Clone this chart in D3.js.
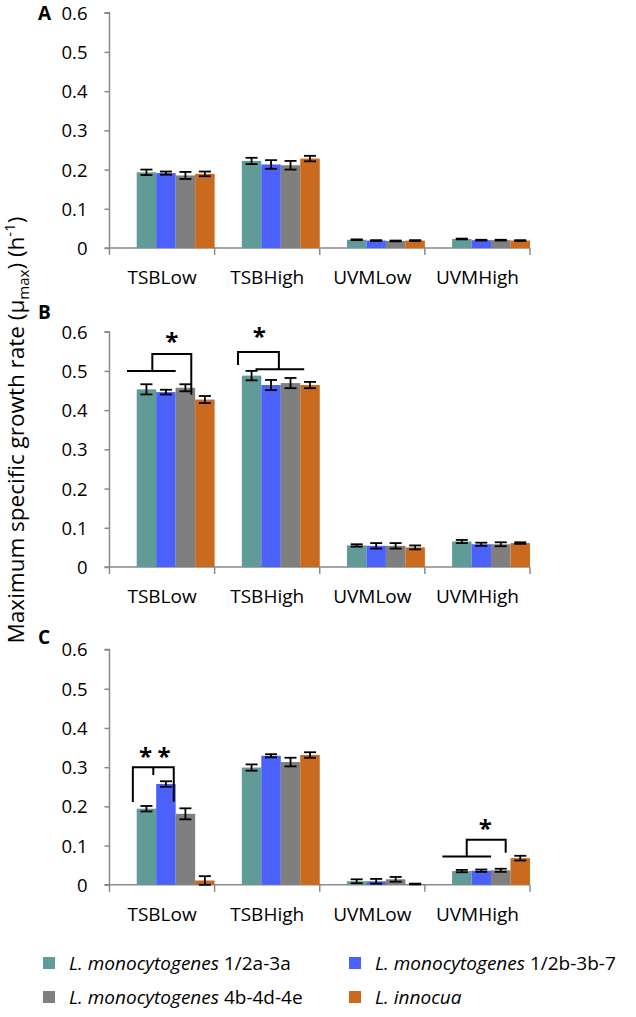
<!DOCTYPE html>
<html><head><meta charset="utf-8">
<script src="https://cdn.jsdelivr.net/npm/d3@7"></script>
<style>
html,body{margin:0;padding:0;background:#fff;}
svg{display:block;}
text{font-family:"Open Sans","Noto Sans",sans-serif;fill:#000;}
</style></head>
<body>
<div id="chart"></div>
<script>
// ---------------- data ----------------
const categories = ["TSBLow", "TSBHigh", "UVMLow", "UVMHigh"];
const seriesItalic = ["L. monocytogenes", "L. monocytogenes", "L. monocytogenes", "L. innocua"];
const seriesRest = [" 1/2a-3a", " 1/2b-3b-7", " 4b-4d-4e", ""];
const seriesColors = ["#619b97", "#4b61fa", "#7f7f7f", "#c96a1f"];
const panelLabels = ["A", "B", "C"];
const yTicks = [0, 0.1, 0.2, 0.3, 0.4, 0.5, 0.6];

// panel A values per series (categories order)
const valuesA_s1 = [0.193, 0.222, 0.021, 0.023];
const valuesA_s2 = [0.191, 0.213, 0.019, 0.020];
const valuesA_s3 = [0.185, 0.211, 0.018, 0.020];
const valuesA_s4 = [0.189, 0.228, 0.019, 0.019];
const errA_s1 = [0.007, 0.008, 0.001, 0.001];
const errA_s2 = [0.004, 0.011, 0.001, 0.001];
const errA_s3 = [0.009, 0.011, 0.001, 0.001];
const errA_s4 = [0.006, 0.007, 0.001, 0.001];

// panel B
const valuesB_s1 = [0.453, 0.488, 0.055, 0.065];
const valuesB_s2 = [0.446, 0.464, 0.054, 0.058];
const valuesB_s3 = [0.457, 0.469, 0.054, 0.058];
const valuesB_s4 = [0.427, 0.464, 0.050, 0.061];
const errB_s1 = [0.013, 0.012, 0.003, 0.004];
const errB_s2 = [0.006, 0.013, 0.007, 0.004];
const errB_s3 = [0.009, 0.013, 0.007, 0.005];
const errB_s4 = [0.009, 0.008, 0.005, 0.002];

// panel C
const valuesC_s1 = [0.194, 0.299, 0.009, 0.035];
const valuesC_s2 = [0.257, 0.329, 0.009, 0.036];
const valuesC_s3 = [0.181, 0.313, 0.014, 0.037];
const valuesC_s4 = [0.011, 0.331, 0.002, 0.068];
const errC_s1 = [0.007, 0.008, 0.005, 0.003];
const errC_s2 = [0.007, 0.004, 0.006, 0.003];
const errC_s3 = [0.014, 0.011, 0.006, 0.004];
const errC_s4 = [0.011, 0.007, 0.001, 0.006];

// significance brackets: [category, bar-position, value] polylines; stars [category, bar-position, value]
const bracketsB = [
  [[0, 0.2, 0.5], [0, 2.7, 0.5]],
  [[0, 1.5, 0.5], [0, 1.5, 0.543], [0, 3.5, 0.543], [0, 3.5, 0.439]],
  [[1, 0.5, 0.515], [1, 0.5, 0.548], [1, 2.6, 0.548], [1, 2.6, 0.504]],
  [[1, 1.4, 0.504], [1, 3.9, 0.504]]
];
const starsB = [[0, 2.5, 0.585], [1, 1.6, 0.596]];
const bracketsC = [
  [[0, 0.5, 0.211], [0, 0.5, 0.300], [0, 2.6, 0.300], [0, 2.6, 0.212]],
  [[0, 1.55, 0.300], [0, 1.55, 0.280]],
  [[3, 0.2, 0.072], [3, 2.7, 0.072]],
  [[3, 1.45, 0.072], [3, 1.45, 0.115], [3, 3.45, 0.115], [3, 3.45, 0.082]]
];
const starsC = [[0, 1.15, 0.337], [0, 2.1, 0.337], [3, 2.4, 0.153]];

const panels = [
  {label: panelLabels[0], values: [valuesA_s1, valuesA_s2, valuesA_s3, valuesA_s4], errs: [errA_s1, errA_s2, errA_s3, errA_s4], brackets: [], stars: []},
  {label: panelLabels[1], values: [valuesB_s1, valuesB_s2, valuesB_s3, valuesB_s4], errs: [errB_s1, errB_s2, errB_s3, errB_s4], brackets: bracketsB, stars: starsB},
  {label: panelLabels[2], values: [valuesC_s1, valuesC_s2, valuesC_s3, valuesC_s4], errs: [errC_s1, errC_s2, errC_s3, errC_s4], brackets: bracketsC, stars: starsC}
];

// ---------------- layout ----------------
const W = 636, H = 1017;
const axisX = 109.5, axisRight = 530;
const panelTops = [12.7, 331.7, 649.5];
const panelLabelY = [20, 319, 644];
const plotH = 235.3;
const axisColor = "#8a8a8a";

const svg = d3.select("#chart").append("svg").attr("width", W).attr("height", H);

const x = d3.scaleBand().domain(categories).range([axisX, axisRight]).padding(0);
const innerPad = 13.6;
const xs = d3.scaleBand().domain(d3.range(4)).range([innerPad, x.bandwidth() - innerPad]).padding(0);
const bw = xs.bandwidth();
const ux = (ci, u) => x(categories[ci]) + innerPad + u * bw;

panels.forEach((p, pi) => {
  const top = panelTops[pi];
  const y = d3.scaleLinear().domain([0, 0.6]).range([top + plotH, top]);
  const g = svg.append("g");

  // y axis
  const yAxis = d3.axisLeft(y).tickValues(yTicks).tickSize(5).tickPadding(17)
    .tickFormat(d => d === 0 ? "0" : d3.format(".1f")(d));
  const ya = g.append("g").attr("transform", `translate(${axisX},0)`).call(yAxis);
  ya.select(".domain").attr("stroke", axisColor).attr("stroke-width", 1.5).attr("d", `M-5,${y(0.6)}H0V${y(0)}`);
  ya.selectAll(".tick line").attr("stroke", axisColor).attr("stroke-width", 1.5);
  ya.selectAll(".tick text").attr("font-size", 18.5).attr("font-family", "'Open Sans',sans-serif").attr("fill", "#000").attr("dy", "0.35em");

  // x axis
  const xAxis = d3.axisBottom(x).tickSize(0).tickPadding(23);
  const xa = g.append("g").attr("transform", `translate(0,${y(0)})`).call(xAxis);
  xa.select(".domain").attr("stroke", axisColor).attr("stroke-width", 1.5).attr("d", `M${axisX - 5},0H${axisRight}`);
  xa.selectAll(".tick text").attr("font-size", 19).attr("font-family", "'Open Sans',sans-serif").attr("fill", "#000");
  // category boundary ticks
  const bounds = categories.map(c => x(c)).concat([axisRight]);
  xa.selectAll("line.bound").data(bounds).join("line").attr("class", "bound")
    .attr("x1", d => d).attr("x2", d => d).attr("y1", 0).attr("y2", 7)
    .attr("stroke", axisColor).attr("stroke-width", 1.5);

  // bars
  const rows = [];
  p.values.forEach((arr, si) => arr.forEach((v, ci) => rows.push({si, ci, v, e: p.errs[si][ci]})));
  g.selectAll("rect.bar").data(rows).join("rect").attr("class", "bar")
    .attr("x", d => x(categories[d.ci]) + innerPad + xs(d.si))
    .attr("width", bw)
    .attr("y", d => y(d.v))
    .attr("height", d => y(0) - y(d.v))
    .attr("fill", d => seriesColors[d.si]);

  // error bars
  const eg = g.append("g").attr("stroke", "#000").attr("stroke-width", 1.8);
  rows.forEach(d => {
    const cx = x(categories[d.ci]) + innerPad + xs(d.si) + bw / 2;
    const y1 = y(d.v + d.e), y2 = y(Math.max(0, d.v - d.e));
    eg.append("line").attr("x1", cx).attr("x2", cx).attr("y1", y1).attr("y2", y2);
    eg.append("line").attr("x1", cx - 6).attr("x2", cx + 6).attr("y1", y1).attr("y2", y1);
    eg.append("line").attr("x1", cx - 6).attr("x2", cx + 6).attr("y1", y2).attr("y2", y2);
  });

  // brackets
  const line = d3.line().x(d => ux(d[0], d[1])).y(d => y(d[2]));
  g.selectAll("path.br").data(p.brackets).join("path").attr("class", "br")
    .attr("d", line).attr("fill", "none").attr("stroke", "#000").attr("stroke-width", 2);
  g.selectAll("text.star").data(p.stars).join("text").attr("class", "star")
    .attr("x", d => ux(d[0], d[1])).attr("y", d => y(d[2]) + 12)
    .attr("text-anchor", "middle").attr("font-size", 24).attr("font-weight", "bold")
    .attr("font-family", "'DejaVu Sans',sans-serif").text("*");

  // panel label
  g.append("text").attr("x", 38).attr("y", panelLabelY[pi]).attr("font-size", 19).attr("font-weight", "bold")
    .attr("font-family", "'Liberation Sans',Arial,sans-serif").text(p.label);
});

// y title
const yt = svg.append("text").attr("transform", "translate(24,430) rotate(-90)")
  .attr("text-anchor", "middle").attr("font-size", 22.5);
yt.append("tspan").text("Maximum specific growth rate (\u03bc");
yt.append("tspan").attr("font-size", 15).attr("dy", 5).text("max");
yt.append("tspan").attr("dy", -5).text(") (h");
yt.append("tspan").attr("font-size", 15).attr("dy", -9).text("-1");
yt.append("tspan").attr("dy", 9).text(")");

// legend
const legX = [43, 349], legY = [963, 997];
const lg = svg.append("g");
seriesColors.forEach((c, i) => {
  const lx = legX[i % 2], ly = legY[Math.floor(i / 2)];
  lg.append("rect").attr("x", lx).attr("y", ly - 6).attr("width", 12).attr("height", 12).attr("fill", c);
  const t = lg.append("text").attr("x", lx + 26).attr("y", ly).attr("dy", "0.35em").attr("font-size", 19);
  t.append("tspan").attr("font-style", "italic").text(seriesItalic[i]);
  if (seriesRest[i]) t.append("tspan").text(seriesRest[i]);
});
</script>
</body></html>
